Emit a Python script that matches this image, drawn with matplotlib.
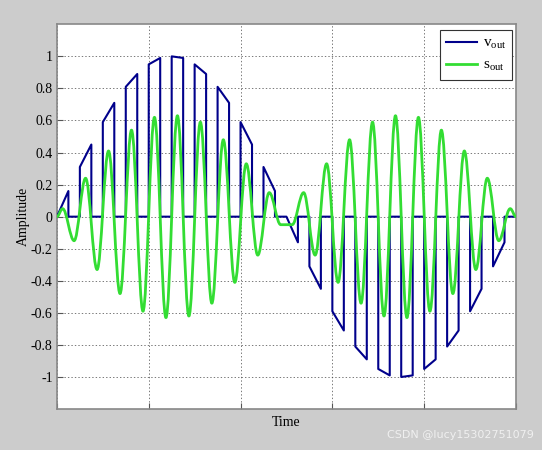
import numpy as np
import matplotlib.pyplot as plt
from matplotlib.path import Path
from matplotlib.patches import PathPatch
from matplotlib.lines import Line2D

# ---- data ----
# blue: sampled pulses (start time, end time, value at start, value at end)
pulse_t0 = [0.000, 0.050, 0.100, 0.150, 0.200, 0.250, 0.300, 0.350, 0.400, 0.450,
            0.500, 0.550, 0.600, 0.650, 0.700, 0.750, 0.800, 0.850, 0.900, 0.950]
pulse_t1 = [0.025, 0.075, 0.125, 0.175, 0.225, 0.275, 0.325, 0.375, 0.425, 0.475,
            0.525, 0.575, 0.625, 0.675, 0.725, 0.775, 0.825, 0.875, 0.925, 0.975]
pulse_a = [0.00, 0.31, 0.59, 0.81, 0.95, 1.00, 0.95, 0.81, 0.59, 0.31,
           0.00, -0.31, -0.59, -0.81, -0.95, -1.00, -0.95, -0.81, -0.59, -0.31]
pulse_b = [0.16, 0.45, 0.71, 0.89, 0.99, 0.99, 0.89, 0.71, 0.45, 0.16,
           -0.16, -0.45, -0.71, -0.89, -0.99, -0.99, -0.89, -0.71, -0.45, -0.16]

# green: peaks / troughs of the filtered output
green_t = [0.0125, 0.0375, 0.0625, 0.0875, 0.1125, 0.1375, 0.1625, 0.1875, 0.2125, 0.2375,
           0.2625, 0.2875, 0.3125, 0.3375, 0.3625, 0.3875, 0.4125, 0.4375, 0.4625, 0.4875,
           0.5125, 0.5375, 0.5625, 0.5875, 0.6125, 0.6375, 0.6625, 0.6875, 0.7125, 0.7375,
           0.7625, 0.7875, 0.8125, 0.8375, 0.8625, 0.8875, 0.9125, 0.9375, 0.9625, 0.9875]
green_v = [0.05, -0.15, 0.24, -0.33, 0.41, -0.48, 0.54, -0.59, 0.62, -0.63,
           0.63, -0.62, 0.59, -0.54, 0.48, -0.41, 0.33, -0.24, 0.15, -0.05,
           -0.05, 0.15, -0.24, 0.33, -0.41, 0.48, -0.54, 0.59, -0.62, 0.63,
           -0.63, 0.62, -0.59, 0.54, -0.48, 0.41, -0.33, 0.24, -0.15, 0.05]

yticks = [-1, -0.8, -0.6, -0.4, -0.2, 0, 0.2, 0.4, 0.6, 0.8, 1]
xticks = [0, 0.2, 0.4, 0.6, 0.8, 1]

blue = "#00008B"
green = "#33DD33"

plt.rcParams["font.family"] = "Liberation Serif"
plt.rcParams["mathtext.fontset"] = "custom"
plt.rcParams["mathtext.rm"] = "Liberation Serif"

fig = plt.figure(figsize=(5.42, 4.5), dpi=100, facecolor="#cccccc")
ax = fig.add_axes([0.105, 0.091, 0.847, 0.855])

# blue pulse train
bx, by = [0.0], [0.0]
for t0, t1, a, b in zip(pulse_t0, pulse_t1, pulse_a, pulse_b):
    bx += [t0, t0, t1, t1]
    by += [0.0, a, b, 0.0]
bx.append(1.0)
by.append(0.0)
ax.plot(bx, by, color=blue, lw=1.5, zorder=3)

# green curve: smooth bezier segments through the extrema
pts = [(0.0, 0.0)] + list(zip(green_t, green_v)) + [(1.0, 0.0)]
verts = [pts[0]]
codes = [Path.MOVETO]
for (ta, va), (tb, vb) in zip(pts[:-1], pts[1:]):
    d = tb - ta
    verts += [(ta + 0.364 * d, va), (tb - 0.364 * d, vb), (tb, vb)]
    codes += [Path.CURVE4] * 3
ax.add_patch(PathPatch(Path(verts, codes), fill=False, edgecolor=green,
                       lw=2.0, zorder=4, capstyle="round", joinstyle="round"))

ax.set_xlim(0, 1)
ax.set_ylim(-1.2, 1.2)
ax.set_xticks(xticks)
ax.set_xticklabels([])
ax.set_yticks(yticks)
ax.set_yticklabels([f"{v:g}" for v in yticks])
ax.tick_params(direction="in", length=4, color="#555555", labelsize=10, pad=3)
ax.grid(True, linestyle=(0, (2, 3)), color="#444444", lw=0.5)
for s in ax.spines.values():
    s.set_color("#888888")
    s.set_linewidth(1.2)

ax.set_xlabel("Time", fontsize=10, labelpad=2)
ax.set_ylabel("Amplitude", fontsize=10, labelpad=1)

handles = [Line2D([], [], color=blue, lw=1.5), Line2D([], [], color=green, lw=2.0)]
leg = ax.legend(handles, [r"$\mathrm{v_{out}}$", r"$\mathrm{s_{out}}$"],
                loc="upper right", fancybox=False, framealpha=1, edgecolor="#333333",
                fontsize=11, handlelength=2.0, handletextpad=0.4, borderpad=0.4,
                labelspacing=0.5, borderaxespad=0, bbox_to_anchor=(0.992, 0.985))
leg.get_frame().set_linewidth(0.8)

fig.text(0.985, 0.022, "CSDN @lucy15302751079", ha="right", va="bottom",
         fontsize=8, family="DejaVu Sans", color="white", alpha=0.7)

fig.savefig("out.png", dpi=100, facecolor=fig.get_facecolor())
